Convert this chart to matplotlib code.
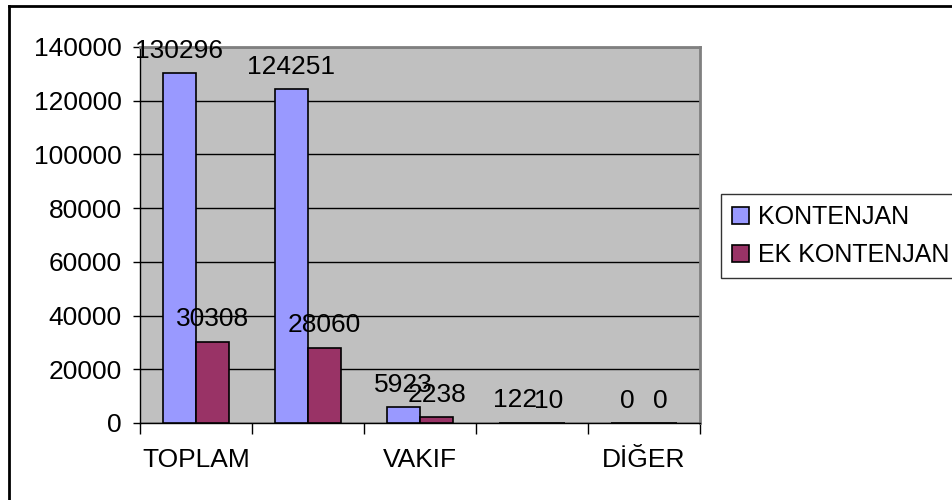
import matplotlib.pyplot as plt
from matplotlib.lines import Line2D
import numpy as np

plt.rcParams['font.family'] = ['Liberation Sans', 'DejaVu Sans']

# Data
categories = ['TOPLAM', 'DEVLET', 'VAKIF', 'KKTC', 'DİĞER']
kontenjan = [130296, 124251, 5923, 122, 0]
ek_kontenjan = [30308, 28060, 2238, 10, 0]
y_ticks = [0, 20000, 40000, 60000, 80000, 100000, 120000, 140000]

fig = plt.figure(figsize=(9.52, 5.0), dpi=100)
ax = fig.add_axes([140/952, 1 - 423/500, 560/952, 376/500])
ax.set_facecolor('#C0C0C0')

x = np.arange(len(categories))
w = 0.295
b1 = ax.bar(x - w/2, kontenjan, w, color='#9999FF', edgecolor='black', linewidth=1.2,
            label='KONTENJAN', zorder=3)
b2 = ax.bar(x + w/2, ek_kontenjan, w, color='#993366', edgecolor='black', linewidth=1.2,
            label='EK KONTENJAN', zorder=3)

# data labels
for bars, vals in [(b1, kontenjan), (b2, ek_kontenjan)]:
    for r, v in zip(bars, vals):
        ax.annotate(str(v), (r.get_x() + r.get_width()/2, v), xytext=(0, 11),
                    textcoords='offset points', ha='center', va='baseline',
                    fontsize=19, zorder=4, annotation_clip=False)

ax.set_xlim(-0.5, len(categories) - 0.5)
ax.set_ylim(0, 140000)
ax.set_yticks(y_ticks)
ax.set_yticklabels([str(t) for t in y_ticks], fontsize=19)
ax.yaxis.grid(True, color='black', linewidth=1, zorder=0)
ax.set_axisbelow(True)
ax.tick_params(axis='y', direction='out', length=5, width=1, pad=8)

# category boundaries as ticks, labels every other category
ax.set_xticks(np.arange(-0.5, len(categories)))
ax.set_xticklabels([])
ax.tick_params(axis='x', which='major', direction='out', length=8, width=1)
ax.set_xticks(x[::2], minor=True)
ax.set_xticklabels(categories[::2], minor=True, fontsize=19)
ax.tick_params(axis='x', which='minor', length=0, pad=18)

for s in ['top', 'right']:
    ax.spines[s].set_color('#808080')
    ax.spines[s].set_linewidth(2)
for s in ['left', 'bottom']:
    ax.spines[s].set_color('black')
    ax.spines[s].set_linewidth(1)

leg = ax.legend(loc='upper left', bbox_to_anchor=(721/952, 1 - 194/500),
                bbox_transform=fig.transFigure, fontsize=18, frameon=True,
                fancybox=False, edgecolor='black', handlelength=0.65,
                handleheight=0.65, handletextpad=0.4, borderpad=0.45,
                labelspacing=0.55, borderaxespad=0)
leg.get_frame().set_linewidth(1)

# chart area border
fig.add_artist(Line2D([9/952, 9/952], [0, 1 - 6/500], color='black', linewidth=2,
                      transform=fig.transFigure))
fig.add_artist(Line2D([9/952, 1], [1 - 6/500, 1 - 6/500], color='black', linewidth=2,
                      transform=fig.transFigure))

plt.savefig('out.png', dpi=100)
